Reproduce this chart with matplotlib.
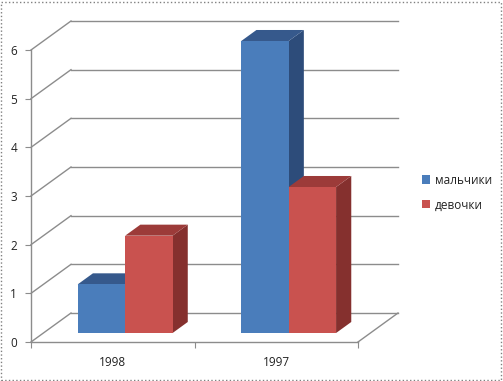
import matplotlib
matplotlib.use("Agg")
import matplotlib.pyplot as plt
from matplotlib.patches import Polygon, Rectangle, Patch

plt.rcParams['font.family'] = ['Open Sans', 'DejaVu Sans']

categories = ['1998', '1997']
series_names = ['мальчики', 'девочки']
boys = [1, 6]
girls = [2, 3]
yticks = [0, 1, 2, 3, 4, 5, 6]

front_colors = ['#4A7DBB', '#C9524F']
top_colors = ['#36598C', '#9C3B39']
side_colors = ['#2D4C7A', '#85302E']
grid_color = '#8C8C8C'

W, H = 503, 381
fig = plt.figure(figsize=(W / 100, H / 100), dpi=100)

# front axes in pixels: x 31..358, y 342 (0) .. 50 (6)
left_px, right_px, bot_px, top_px = 31, 358, 342, 50
ax = fig.add_axes([left_px / W, (H - bot_px) / H,
                   (right_px - left_px) / W, (bot_px - top_px) / H])
ax.set_xlim(0, len(categories))
ax.set_ylim(0, 6)

px_x = (right_px - left_px) / len(categories)
px_y = (bot_px - top_px) / 6.0
DX = 40 / px_x   # wall depth in data units
DY = 29 / px_y

# walls / gridlines
for k in yticks:
    ax.plot([0, DX], [k, k + DY], color=grid_color, lw=1, clip_on=False, zorder=1)
    ax.plot([DX, len(categories) + DX], [k + DY, k + DY], color=grid_color,
            lw=1, clip_on=False, zorder=1)
ax.plot([len(categories), len(categories) + DX], [0, DY], color=grid_color,
        lw=1, clip_on=False, zorder=1)

# bars
bar_w = 0.29
t0, t1 = 0.31, 0.69
series = [boys, girls]
for si, vals in enumerate(series):
    for ci, v in enumerate(vals):
        x0 = ci + 0.5 - bar_w + si * bar_w + t0 * DX
        y0 = t0 * DY
        ddx = (t1 - t0) * DX
        ddy = (t1 - t0) * DY
        z = 3 + ci * 2 + si
        ax.add_patch(Polygon([(x0 + bar_w, y0), (x0 + bar_w + ddx, y0 + ddy),
                              (x0 + bar_w + ddx, y0 + v + ddy), (x0 + bar_w, y0 + v)],
                             closed=True, fc=side_colors[si], ec='none',
                             clip_on=False, zorder=z))
        ax.add_patch(Polygon([(x0, y0 + v), (x0 + bar_w, y0 + v),
                              (x0 + bar_w + ddx, y0 + v + ddy), (x0 + ddx, y0 + v + ddy)],
                             closed=True, fc=top_colors[si], ec='none',
                             clip_on=False, zorder=z))
        ax.add_patch(Rectangle((x0, y0), bar_w, v, fc=front_colors[si], ec='none',
                               clip_on=False, zorder=z))

# axes styling
for s in ['top', 'right']:
    ax.spines[s].set_visible(False)
for s in ['left', 'bottom']:
    ax.spines[s].set_color(grid_color)
    ax.spines[s].set_linewidth(1)
ax.set_yticks(yticks)
ax.set_yticklabels([str(v) for v in yticks])
ax.set_xticks(range(len(categories) + 1))
ax.set_xticklabels([''] * (len(categories) + 1))
ax.set_xticks([i + 0.5 for i in range(len(categories))], minor=True)
ax.set_xticklabels(categories, minor=True)
ax.tick_params(axis='both', which='major', length=4, color=grid_color,
               labelsize=8.5, labelcolor='#222222', pad=6)
ax.tick_params(axis='x', which='minor', length=0, labelsize=8.5, pad=10,
               labelcolor='#222222')
ax.patch.set_visible(False)

handles = [Patch(fc=front_colors[i], ec='none') for i in range(2)]
fig.legend(handles, series_names, loc='upper left',
           bbox_to_anchor=(411 / W, 1 - 163 / H), frameon=False,
           handlelength=0.7, handleheight=0.7, handletextpad=0.4,
           labelspacing=1.0, fontsize=8.5, labelcolor='#222222')

# dotted outer frame
fig.add_artist(Rectangle((1 / W, 1 / H), (W - 3) / W, (H - 3) / H,
                         transform=fig.transFigure, fill=False,
                         ec='#808080', lw=1, ls=':'))

fig.savefig('out.png', dpi=100)
